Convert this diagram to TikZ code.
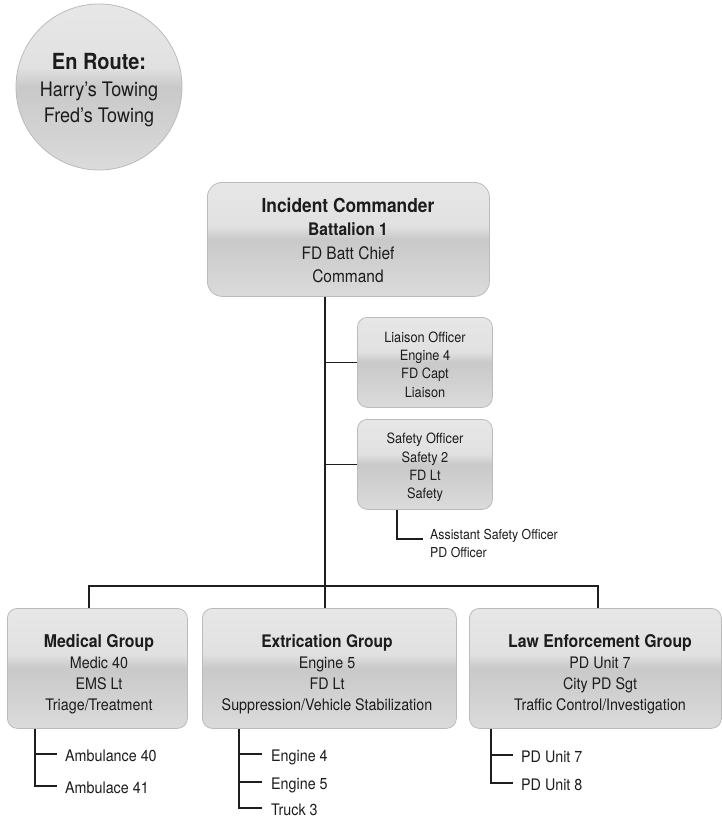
\documentclass[tikz,border=0pt]{standalone}
\usepackage{fontspec}
\setmainfont{TeX Gyre Heros}[FakeStretch=0.9]
\definecolor{stopc}{HTML}{E7E7E7}
\definecolor{stoptwo}{HTML}{E1E1E1}
\definecolor{smid}{HTML}{C9C9C9}
\definecolor{sbot}{HTML}{DBDBDB}
\definecolor{boxline}{HTML}{BBBBBB}
\definecolor{linec}{HTML}{1E1E1E}
\definecolor{textc}{HTML}{1C1C1C}
\pgfdeclareverticalshading{boxshade}{100bp}{color(0bp)=(sbot); color(25bp)=(sbot); color(50bp)=(smid); color(56bp)=(stoptwo); color(75bp)=(stopc); color(100bp)=(stopc)}
\newcommand{\fs}[1]{\fontsize{#1}{#1}\selectfont}
\tikzset{
  gbox/.style={draw=boxline, line width=0.8pt, shading=boxshade, rounded corners=#1, inner sep=0pt, anchor=north west},
  gbox/.default=10pt,
  conn/.style={draw=linec, line width=1.6pt},
  tl/.style={inner sep=0pt, anchor=base, text=textc},
  tll/.style={inner sep=0pt, anchor=base west, text=textc},
}
\begin{document}
\begin{tikzpicture}[x=1pt,y=-1pt]
\useasboundingbox (0,0) rectangle (722,817);
% En route circle
\node[circle, draw=boxline, line width=0.8pt, shading=boxshade, minimum size=166pt, inner sep=0pt] (enroute) at (99,87) {};
\node[tl, font=\fs{22.2}\bfseries] (er1) at (99,69) {En Route:};
\node[tl, font=\fs{20}] (er2) at (99,96) {Harry’s Towing};
\node[tl, font=\fs{20}] (er3) at (99,122) {Fred’s Towing};

% Incident commander
\node[gbox=15pt, minimum width=282pt, minimum height=114pt] (ic) at (207,182) {};
\node[tl, font=\fs{19.3}\bfseries] (ic1) at (348,212) {Incident Commander};
\node[tl, font=\fs{17.3}\bfseries] (ic2) at (348,235) {Battalion 1};
\node[tl, font=\fs{17.2}] (ic3) at (348,259) {FD Batt Chief};
\node[tl, font=\fs{17.2}] (ic4) at (348,282) {Command};

% Liaison
\node[gbox, minimum width=135pt, minimum height=90pt] (liaison) at (357,317) {};
\node[tl, font=\fs{14.2}] (li1) at (425,342) {Liaison Officer};
\node[tl, font=\fs{14.2}] (li2) at (425,360) {Engine 4};
\node[tl, font=\fs{14.2}] (li3) at (425,378) {FD Capt};
\node[tl, font=\fs{14.2}] (li4) at (425,397) {Liaison};

% Safety
\node[gbox, minimum width=135pt, minimum height=90pt] (safety) at (357,419) {};
\node[tl, font=\fs{14.2}] (sa1) at (425,443) {Safety Officer};
\node[tl, font=\fs{14.2}] (sa2) at (425,462) {Safety 2};
\node[tl, font=\fs{14.2}] (sa3) at (425,480) {FD Lt};
\node[tl, font=\fs{14.2}] (sa4) at (425,498) {Safety};

% Assistant safety officer
\coordinate (asoX) at (397,539);
\coordinate (asoEnd) at (423,539);
\node[tll, font=\fs{13.7}] (aso1) at (430,539) {Assistant Safety Officer};
\node[tll, font=\fs{13.7}] (aso2) at (430,557) {PD Officer};

% Bottom groups
\node[gbox, minimum width=180pt, minimum height=120pt] (med) at (7,608) {};
\node[tl, font=\fs{17.6}\bfseries] (me1) at (99,647) {Medical Group};
\node[tl, font=\fs{15.9}] (me2) at (99,668) {Medic 40};
\node[tl, font=\fs{15.9}] (me3) at (99,689) {EMS Lt};
\node[tl, font=\fs{15.9}] (me4) at (99,710) {Triage/Treatment};

\node[gbox, minimum width=254pt, minimum height=120pt] (ext) at (202,608) {};
\node[tl, font=\fs{17.3}\bfseries] (ex1) at (327,647) {Extrication Group};
\node[tl, font=\fs{15.9}] (ex2) at (327,668) {Engine 5};
\node[tl, font=\fs{15.9}] (ex3) at (327,689) {FD Lt};
\node[tl, font=\fs{15.9}] (ex4) at (327,710) {Suppression/Vehicle Stabilization};

\node[gbox, minimum width=252pt, minimum height=120pt] (law) at (469,608) {};
\node[tl, font=\fs{17.6}\bfseries] (la1) at (600,647) {Law Enforcement Group};
\node[tl, font=\fs{15.9}] (la2) at (600,668) {PD Unit 7};
\node[tl, font=\fs{15.9}] (la3) at (600,689) {City PD Sgt};
\node[tl, font=\fs{15.9}] (la4) at (600,710) {Traffic Control/Investigation};

% Connectors
\coordinate (barmid) at (325,586);
\coordinate (barL) at (89,586);
\coordinate (barR) at (598,586);
\draw[conn] (ic.south -| barmid) -- (barmid);
\draw[conn] (liaison.west) -- (liaison.west -| barmid);
\draw[conn] (safety.west) -- (safety.west -| barmid);
\draw[conn] (safety.south -| asoX) -- (asoX) -- (asoEnd);
\draw[conn] (barL |- med.north) -- (barL) -- (barR) -- (barR |- law.north);
\draw[conn] (barmid) -- (barmid |- ext.north);

% Medical sub-items
\coordinate (mA) at (35,754);
\coordinate (mB) at (35,786);
\coordinate (mAe) at (57,754);
\coordinate (mBe) at (57,786);
\draw[conn] (med.south -| mA) -- (mB) -- (mBe);
\draw[conn] (mA) -- (mAe);
\node[tll, font=\fs{15.9}] (ms1) at (65,761) {Ambulance 40};
\node[tll, font=\fs{15.9}] (ms2) at (65,793) {Ambulace 41};

% Extrication sub-items
\coordinate (eA) at (239,754);
\coordinate (eB) at (239,782);
\coordinate (eC) at (239,808);
\coordinate (eAe) at (262,754);
\coordinate (eBe) at (262,782);
\coordinate (eCe) at (262,808);
\draw[conn] (ext.south -| eA) -- (eC) -- (eCe);
\draw[conn] (eA) -- (eAe);
\draw[conn] (eB) -- (eBe);
\node[tll, font=\fs{15.9}] (es1) at (271,761) {Engine 4};
\node[tll, font=\fs{15.9}] (es2) at (271,789) {Engine 5};
\node[tll, font=\fs{15.9}] (es3) at (271,815) {Truck 3};

% Law sub-items
\coordinate (lA) at (491,755);
\coordinate (lB) at (491,783);
\coordinate (lAe) at (513,755);
\coordinate (lBe) at (513,783);
\draw[conn] (law.south -| lA) -- (lB) -- (lBe);
\draw[conn] (lA) -- (lAe);
\node[tll, font=\fs{15.9}] (ls1) at (521,762) {PD Unit 7};
\node[tll, font=\fs{15.9}] (ls2) at (521,790) {PD Unit 8};
\end{tikzpicture}
\end{document}
